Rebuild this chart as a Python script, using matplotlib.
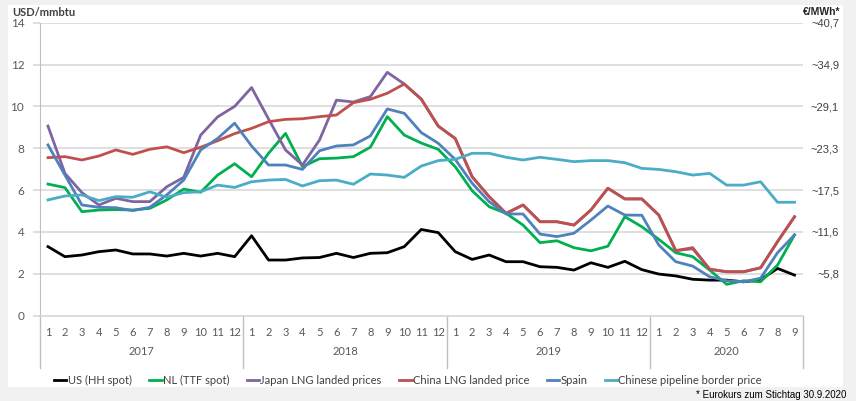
import numpy as np
import matplotlib.pyplot as plt
from matplotlib.patches import Rectangle
import matplotlib.transforms as mtransforms

months = [str(m) for m in range(1, 13)] * 3 + [str(m) for m in range(1, 10)]
years = ['2017', '2018', '2019', '2020']

us_hh = [3.30, 2.82, 2.90, 3.06, 3.14, 2.95, 2.95, 2.85, 2.98, 2.85, 2.98, 2.82,
         3.82, 2.66, 2.66, 2.76, 2.78, 2.98, 2.78, 2.98, 3.01, 3.30, 4.12, 3.97,
         3.06, 2.69, 2.90, 2.58, 2.58, 2.34, 2.31, 2.18, 2.53, 2.31, 2.60, 2.20,
         1.99, 1.90, 1.74, 1.70, 1.70, 1.62, 1.72, 2.26, 1.94]
nl_ttf = [6.29, 6.12, 4.97, 5.05, 5.07, 5.05, 5.13, 5.53, 6.05, 5.90, 6.72, 7.26,
          6.64, 7.76, 8.71, 7.12, 7.50, 7.53, 7.60, 8.05, 9.51, 8.63, 8.25, 7.95,
          7.12, 5.97, 5.21, 4.89, 4.33, 3.49, 3.58, 3.25, 3.10, 3.32, 4.73, 4.25,
          3.65, 3.01, 2.82, 2.18, 1.50, 1.67, 1.62, 2.42, 3.86]
japan = [9.06, 6.80, 5.88, 5.29, 5.61, 5.45, 5.45, 6.16, 6.61, 8.63, 9.50, 10.00,
         10.90, 9.40, 7.92, 7.20, 8.39, 10.30, 10.21, 10.47, 11.63, 11.07, 10.35, 9.06,
         8.47, 6.64, 5.69, 4.89, 5.29, 4.49, 4.49, 4.33, 5.05, 6.09, 5.58, 5.58,
         4.81, 3.11, 3.20, 2.22, 2.10, 2.10, 2.29, 3.54, 4.73]
china = [7.55, 7.60, 7.44, 7.63, 7.92, 7.71, 7.95, 8.07, 7.79, 8.05, 8.36, 8.70,
         8.95, 9.27, 9.38, 9.41, 9.51, 9.59, 10.18, 10.34, 10.63, 11.07, 10.35, 9.06,
         8.47, 6.64, 5.69, 4.89, 5.29, 4.49, 4.49, 4.33, 5.05, 6.09, 5.58, 5.58,
         4.81, 3.11, 3.25, 2.22, 2.10, 2.10, 2.29, 3.54, 4.73]
spain = [8.16, 6.72, 5.29, 5.18, 5.16, 5.02, 5.18, 5.77, 6.48, 7.92, 8.47, 9.20,
         8.11, 7.20, 7.20, 6.99, 7.88, 8.11, 8.16, 8.59, 9.88, 9.67, 8.75, 8.24,
         7.47, 6.33, 5.45, 4.86, 4.86, 3.90, 3.78, 3.94, 4.57, 5.24, 4.81, 4.80,
         3.38, 2.58, 2.37, 1.86, 1.67, 1.62, 1.79, 3.01, 3.86]
pipeline = [5.53, 5.72, 5.77, 5.50, 5.69, 5.66, 5.92, 5.66, 5.88, 5.92, 6.24, 6.13,
            6.40, 6.48, 6.51, 6.20, 6.45, 6.48, 6.28, 6.77, 6.72, 6.61, 7.15, 7.41,
            7.47, 7.76, 7.76, 7.57, 7.44, 7.57, 7.47, 7.36, 7.41, 7.41, 7.31, 7.04,
            6.99, 6.88, 6.72, 6.80, 6.24, 6.24, 6.40, 5.42, 5.42]

left_ticks = [0, 2, 4, 6, 8, 10, 12, 14]
right_ticks = [2, 4, 6, 8, 10, 12, 14]
right_labels = ['~5,8', '~11,6', '~17,5', '~23,3', '~29,1', '~34,9', '~40,7']

series = [(us_hh, 'US (HH spot)', '#000000'),
          (nl_ttf, 'NL (TTF spot)', '#00b050'),
          (japan, 'Japan LNG landed prices', '#8064a2'),
          (china, 'China LNG landed price', '#c0504d'),
          (spain, 'Spain', '#4f81bd'),
          (pipeline, 'Chinese pipeline border price', '#4bacc6')]

plt.rcParams['font.family'] = ['Lato', 'DejaVu Sans']

W, H = 856, 401
fig = plt.figure(figsize=(W / 100, H / 100), dpi=100)
fig.patch.set_facecolor('#f1f1f1')
fig.patches.append(Rectangle((8 / W, 1 - 387 / H), 835 / W, 382 / H,
                             transform=fig.transFigure, facecolor='white',
                             edgecolor='none', zorder=-5))

ax = fig.add_axes([39.5 / W, 1 - 315.7 / H, (803 - 39.5) / W, 293 / H])
ax.set_facecolor('none')
x = np.arange(len(months))
for vals, name, col in series:
    ax.plot(x, vals, color=col, lw=2.0, label=name)

ax.set_xlim(-0.5, 44.5)
ax.set_ylim(0, 14)
ax.set_yticks(left_ticks)
ax.set_yticklabels([str(t) for t in left_ticks], fontsize=8.5, color='#595959')
ax.grid(axis='y', color='#d9d9d9', lw=1.2)
ax.set_axisbelow(True)
ax.tick_params(axis='y', length=5, color='#d9d9d9', width=1.2, pad=6)
ax.set_xticks(x)
ax.set_xticklabels(months, fontsize=8, color='#595959')
ax.tick_params(axis='x', length=0, pad=8)
for s in ['top', 'right']:
    ax.spines[s].set_visible(False)
ax.spines['left'].set_color('#bfbfbf')
ax.spines['bottom'].set_color('#d9d9d9')
ax.spines['bottom'].set_linewidth(1.2)

trans = mtransforms.blended_transform_factory(ax.transData, ax.transAxes)
for b in [-0.5, 11.5, 23.5, 35.5, 44.5]:
    ax.plot([b, b], [0, -0.178], transform=trans, color='#bfbfbf', lw=1.0, clip_on=False)
for i, yr in enumerate(years):
    start = i * 12 - 0.5
    end = min(start + 12, 44.5)
    ax.text((start + end) / 2, -0.123, yr, transform=trans, ha='center', va='center',
            fontsize=8, color='#595959')

ax2 = ax.twinx()
ax2.set_ylim(0, 14)
ax2.set_yticks(right_ticks)
ax2.set_yticklabels(right_labels, fontsize=8, color='#404040', family='Liberation Sans')
ax2.tick_params(axis='y', length=0, pad=26)
for lab in ax2.get_yticklabels():
    lab.set_horizontalalignment('right')
for s in ax2.spines.values():
    s.set_visible(False)

fig.text(12 / W, 1 - 12 / H, 'USD/mmbtu', fontsize=8, fontweight='bold',
         color='#404040', ha='left', va='center')
fig.text(840 / W, 1 - 12 / H, '€/MWh*', fontsize=7.5, fontweight='bold',
         color='#262626', ha='right', va='center', family='Liberation Sans')

fig.legend(loc='center', bbox_to_anchor=(408 / W, 1 - 380 / H), ncol=6, frameon=False,
           fontsize=8, handlelength=1.1, handletextpad=0.1, columnspacing=1.6,
           labelcolor='#404040')

fig.text(846 / W, 1 - 395 / H, '* Eurokurs zum Stichtag 30.9.2020', fontsize=7,
         color='#000000', ha='right', va='center', family='Liberation Sans')

fig.savefig('out.png', dpi=100, facecolor=fig.get_facecolor())
